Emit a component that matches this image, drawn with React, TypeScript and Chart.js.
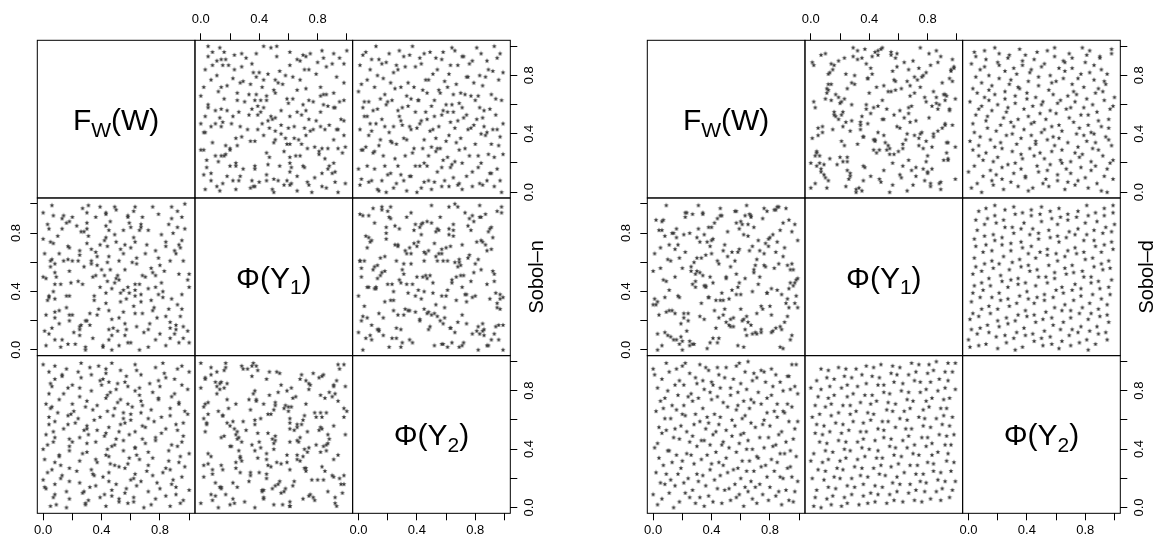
import React, { useEffect, useRef } from 'react';
import { Chart, registerables } from 'chart.js';

Chart.register(...registerables);

const PAGE_W = 1153;
const PAGE_H = 545;
const PANEL = 157.67;
const MATRIX_LEFTS = [37.3, 647.3];
const MATRIX_TOP = 40.3;
const AXIS_MIN = -0.04;
const AXIS_MAX = 1.04;
const TICK_VALUES = [0, 0.2, 0.4, 0.6, 0.8, 1];
const TICK_LABELS = ['0.0', '', '0.4', '', '0.8', ''];
const VAR_LABELS: [string, string, string][] = [['F', 'W', '(W)'], ['Φ(Y', '1', ')'], ['Φ(Y', '2', ')']];
const MATRIX_TITLES = ['Sobol–n', 'Sobol–d'];
const PCT = 100; // point values below are given in percent of the unit range

// ---- Sobol-n sample (three variables, one entry per point) ----
const sobolN_W = [
  100,99,100,99,100,96,96,93,97,96,95,95,97,94,95,95,93,92,90,91,
  91,91,90,94,93,89,92,92,87,87,87,88,87,88,88,84,84,86,82,82,
  81,83,84,84,81,86,80,78,79,77,80,79,77,77,75,76,77,79,75,74,
  75,74,72,72,73,72,70,68,70,72,71,67,67,68,67,67,66,69,68,66,
  64,64,64,61,63,62,63,63,63,60,63,62,66,62,63,59,60,58,56,57,
  56,57,59,58,56,55,56,58,58,55,60,52,51,52,55,53,53,55,52,50,
  51,49,52,53,50,50,49,49,47,45,47,45,48,47,45,43,43,47,44,46,
  44,45,44,43,45,43,43,46,41,41,37,38,35,35,39,42,40,36,37,37,
  39,36,42,43,36,39,34,32,30,29,32,34,33,33,33,30,31,30,30,30,
  31,29,29,25,25,25,26,27,28,24,25,25,28,26,23,27,22,21,24,18,
  18,20,16,18,16,19,18,20,17,18,17,16,18,20,17,12,13,11,11,12,
  9,14,11,10,13,13,14,8,8,8,7,8,8,8,6,7,7,6,6,8,
  4,3,4,4,2,0,5,5,1,5,0,4,3,0,2,1,2,
];
const sobolN_Y1 = [
  5,13,43,48,52,8,16,5,83,61,75,91,100,23,28,38,52,31,11,14,
  17,66,68,70,72,80,84,95,8,15,19,35,61,90,98,3,23,28,36,40,
  46,54,71,74,79,86,11,22,38,51,58,63,68,7,27,29,43,93,98,34,
  53,56,2,14,18,42,50,51,66,82,72,86,84,25,33,38,45,12,91,0,
  16,59,63,60,25,30,37,41,45,70,74,77,82,95,98,87,5,5,10,14,
  18,35,39,43,55,66,72,91,92,82,84,3,13,22,26,33,39,41,48,49,
  51,46,61,69,74,96,98,79,0,7,10,14,15,21,27,32,39,42,47,55,
  60,64,71,77,82,93,94,88,2,3,24,28,34,37,43,51,55,51,58,64,
  72,67,75,85,91,98,8,17,20,20,25,50,59,61,69,73,78,83,87,94,
  99,0,2,10,14,16,17,45,57,61,65,68,81,81,85,97,4,12,47,20,
  24,24,29,37,37,46,54,61,62,70,71,87,88,91,4,2,7,18,27,45,
  50,61,66,78,83,90,92,7,26,35,40,45,53,59,62,73,92,99,15,22,
  11,34,36,37,49,50,57,61,66,74,76,83,86,94,3,13,24,
];
const sobolN_Y2 = [
  37,81,12,64,93,5,49,72,28,58,84,21,66,3,45,97,31,53,78,14,
  9,57,88,35,71,19,42,95,26,63,68,43,1,76,16,89,54,32,99,24,
  51,92,27,8,62,39,83,17,74,46,13,75,48,96,34,59,6,87,22,67,
  79,2,61,29,85,11,44,70,55,38,25,65,91,47,18,73,33,0,56,82,
  94,36,15,69,52,4,80,41,23,60,41,7,77,20,98,50,64,30,86,13,
  58,90,34,71,10,46,27,83,3,65,19,52,85,6,39,74,94,61,28,47,
  72,29,4,57,81,16,68,43,99,35,8,86,63,42,24,95,51,12,77,30,
  66,18,40,92,55,1,36,79,21,88,31,97,22,60,7,49,84,15,70,53,
  87,45,9,75,33,62,23,96,56,2,14,67,80,26,91,38,5,54,44,73,
  50,3,69,17,48,82,99,37,11,61,76,32,53,89,25,10,58,66,93,42,
  27,71,95,39,0,64,18,45,82,6,63,11,47,84,57,29,91,74,35,20,
  2,54,36,65,90,22,78,9,48,97,45,88,16,31,69,52,7,83,26,59,
  93,24,78,57,13,40,68,1,33,85,19,62,43,98,71,14,50,
];

// ---- Sobol-d sample (three variables, one entry per point) ----
const sobolD_W = [
  62,14,88,35,71,3,47,96,29,53,18,79,41,6,93,57,25,68,84,32,
  75,38,11,59,0,86,22,49,65,97,44,91,27,70,52,15,80,8,36,63,
  5,56,73,99,21,42,67,31,89,12,87,24,60,46,78,9,34,95,51,17,
  30,69,2,83,39,64,19,55,74,92,58,7,94,28,48,77,13,40,66,85,
  20,45,81,61,4,33,98,72,50,26,71,90,37,16,57,23,87,10,43,64,
  11,52,68,94,30,76,1,39,82,59,47,84,25,3,65,48,91,18,35,73,
  96,33,54,79,14,60,27,86,6,41,23,62,9,43,88,97,50,70,36,15,
  80,4,75,56,28,19,67,45,93,38,54,99,32,12,76,85,8,61,22,46,
  37,20,63,90,42,2,78,29,57,83,89,66,16,51,7,34,58,95,74,21,
  13,48,85,27,69,92,40,5,62,31,67,78,44,8,53,24,99,17,81,39,
  26,10,58,72,35,89,46,64,3,94,82,53,21,97,60,41,15,77,30,68,
  40,87,6,34,18,71,55,92,49,1,93,29,69,45,84,11,25,38,63,76,
  16,74,50,81,0,57,36,98,20,44,59,32,95,65,22,9,
];
const sobolD_Y1 = [
  2,7,14,21,25,33,39,44,52,57,63,71,76,82,89,95,
  3,11,15,23,28,36,41,46,54,59,67,72,78,86,90,97,
  4,12,17,25,30,36,44,49,56,61,68,75,79,87,92,99,
  1,9,16,20,28,34,39,47,51,59,64,72,77,84,89,96,
  5,10,18,22,30,35,43,48,55,60,68,73,80,84,93,98,
  0,8,12,20,24,32,37,45,49,57,62,70,74,83,87,94,
  2,10,15,23,27,35,40,46,54,58,66,71,79,83,92,96,
  6,11,19,24,32,36,44,50,55,63,67,76,80,88,93,98,
  3,8,13,21,26,34,38,46,50,58,65,69,77,82,90,95,
  4,9,17,22,29,36,41,49,53,61,66,74,78,86,91,97,
  1,6,14,19,27,31,39,43,52,56,64,68,77,81,89,93,
  3,10,14,22,27,34,41,45,53,58,66,70,79,83,91,95,
  5,12,16,25,29,37,42,50,54,62,67,75,79,87,92,99,
  0,7,13,21,25,32,38,46,50,57,63,71,75,82,88,94,
  4,11,16,23,28,35,42,47,55,59,67,72,80,84,92,97,
  7,12,19,24,31,38,43,48,56,61,69,74,81,86,94,99,
];
const sobolD_Y2 = [
  1,0,2,1,3,2,3,4,3,5,4,5,4,6,5,7,
  7,6,8,7,9,8,10,9,9,11,10,12,11,11,13,12,
  12,14,13,15,14,16,15,14,17,16,16,18,17,19,18,18,
  20,19,21,20,20,22,21,23,22,21,24,23,23,25,24,25,
  26,25,27,26,28,27,27,29,28,30,29,29,31,30,32,31,
  32,31,33,32,34,33,35,34,34,36,35,37,36,36,38,37,
  37,39,38,40,39,41,40,39,42,41,41,43,42,44,43,43,
  45,44,46,45,45,47,46,48,47,46,49,48,48,50,49,50,
  51,50,52,51,53,52,52,54,53,55,54,54,56,55,57,56,
  57,56,58,57,59,58,60,59,59,61,60,62,61,61,63,62,
  62,64,63,65,64,66,65,64,67,66,66,68,67,69,68,68,
  70,69,71,70,70,72,71,73,72,71,74,73,73,75,74,75,
  76,75,77,76,78,77,77,79,78,80,79,79,81,80,82,81,
  82,81,83,82,84,83,85,84,84,86,85,87,86,86,88,87,
  87,89,88,90,89,91,90,89,92,91,91,93,92,94,93,93,
  95,94,96,95,95,97,96,98,97,96,99,98,98,100,99,99,
];

const MATRIX_VARS: number[][][] = [
  [sobolN_W, sobolN_Y1, sobolN_Y2],
  [sobolD_W, sobolD_Y1, sobolD_Y2],
];

type Spec = {
  m: number; r: number; c: number;
  left: number; top: number;
  xPos?: 'top' | 'bottom';
  yPos?: 'left' | 'right';
};

const SPECS: Spec[] = [];
for (let m = 0; m < 2; m++) {
  for (let r = 0; r < 3; r++) {
    for (let c = 0; c < 3; c++) {
      SPECS.push({
        m, r, c,
        left: MATRIX_LEFTS[m] + c * PANEL,
        top: MATRIX_TOP + r * PANEL,
        xPos: r === 0 && c === 1 ? 'top' : r === 2 && c !== 1 ? 'bottom' : undefined,
        yPos: c === 0 && r === 1 ? 'left' : c === 2 && r !== 1 ? 'right' : undefined,
      });
    }
  }
}

const FONT_FAMILY = '"Liberation Sans", Arial, Helvetica, sans-serif';
const X_AXIS_H = 30;
const Y_AXIS_W = 30;

function makeStar(): HTMLCanvasElement {
  const c = document.createElement('canvas');
  c.width = 6;
  c.height = 6;
  const g = c.getContext('2d')!;
  g.fillStyle = '#3a3a3a';
  g.beginPath();
  for (let k = 0; k < 10; k++) {
    const rr = k % 2 === 0 ? 2.6 : 1.1;
    const a = -Math.PI / 2 + (k * Math.PI) / 5;
    const px = 3 + rr * Math.cos(a);
    const py = 3.2 + rr * Math.sin(a);
    if (k === 0) g.moveTo(px, py);
    else g.lineTo(px, py);
  }
  g.closePath();
  g.fill();
  return c;
}

function drawVarLabel(ctx: CanvasRenderingContext2D, parts: [string, string, string], cx: number, cy: number, size: number) {
  const main = `${size}px ${FONT_FAMILY}`;
  const sub = `${Math.round(size * 0.7)}px ${FONT_FAMILY}`;
  ctx.font = main;
  const w0 = ctx.measureText(parts[0]).width;
  const w2 = ctx.measureText(parts[2]).width;
  ctx.font = sub;
  const w1 = ctx.measureText(parts[1]).width;
  let x = cx - (w0 + w1 + w2) / 2;
  const base = cy + size * 0.36;
  ctx.fillStyle = '#000';
  ctx.textAlign = 'left';
  ctx.textBaseline = 'alphabetic';
  ctx.font = main;
  ctx.fillText(parts[0], x, base);
  x += w0;
  ctx.font = sub;
  ctx.fillText(parts[1], x, base + size * 0.22);
  x += w1;
  ctx.font = main;
  ctx.fillText(parts[2], x, base);
}

const panelPlugin = {
  id: 'panelDecor',
  afterDraw(chart: any, _args: any, opts: any) {
    const { ctx, chartArea: a } = chart;
    ctx.save();
    ctx.strokeStyle = '#000';
    ctx.lineWidth = 1;
    ctx.strokeRect(a.left, a.top, a.right - a.left, a.bottom - a.top);
    if (opts.label) {
      drawVarLabel(ctx, opts.label, (a.left + a.right) / 2, (a.top + a.bottom) / 2, 30);
    }
    if (opts.title) {
      ctx.translate(a.right + 27, (a.top + a.bottom) / 2);
      ctx.rotate(-Math.PI / 2);
      ctx.font = `20px ${FONT_FAMILY}`;
      ctx.fillStyle = '#000';
      ctx.textAlign = 'center';
      ctx.textBaseline = 'middle';
      ctx.fillText(opts.title, 0, 0);
    }
    ctx.restore();
  },
};

function axisOptions(pos: string | undefined, isX: boolean) {
  return {
    type: 'linear',
    min: AXIS_MIN,
    max: AXIS_MAX,
    display: !!pos,
    position: pos || (isX ? 'bottom' : 'left'),
    afterBuildTicks: (s: any) => {
      s.ticks = TICK_VALUES.map((v) => ({ value: v }));
    },
    afterFit: (s: any) => {
      if (!pos) return;
      if (isX) s.height = X_AXIS_H;
      else s.width = Y_AXIS_W;
    },
    grid: { drawOnChartArea: false, drawTicks: true, tickLength: 7, color: '#000', lineWidth: 1 },
    border: { display: false },
    ticks: {
      autoSkip: false,
      color: '#000',
      font: { family: FONT_FAMILY, size: 13 },
      padding: isX ? (pos === 'top' ? 6 : 2) : pos === 'right' ? 3 : 5,
      minRotation: isX ? 0 : 90,
      maxRotation: isX ? 0 : 90,
      crossAlign: isX ? 'near' : 'center',
      callback: (_v: any, i: number) => TICK_LABELS[i],
    },
  };
}

function buildConfig(spec: Spec, star: HTMLCanvasElement): any {
  const right = spec.left + PANEL;
  const bottom = spec.top + PANEL;
  const padding = {
    left: spec.left - (spec.yPos === 'left' ? Y_AXIS_W : 0),
    right: PAGE_W - right - (spec.yPos === 'right' ? Y_AXIS_W : 0),
    top: spec.top - (spec.xPos === 'top' ? X_AXIS_H : 0),
    bottom: PAGE_H - bottom - (spec.xPos === 'bottom' ? X_AXIS_H : 0),
  };
  const { m, r, c } = spec;
  const data: { x: number; y: number }[] = [];
  if (r !== c) {
    const xs = MATRIX_VARS[m][c];
    const ys = MATRIX_VARS[m][r];
    const n = Math.min(xs.length, ys.length);
    for (let i = 0; i < n; i++) data.push({ x: xs[i] / PCT, y: ys[i] / PCT });
  }
  return {
    type: 'scatter',
    data: {
      datasets: [
        {
          data,
          pointStyle: star,
          pointRadius: 3,
          pointHoverRadius: 3,
          borderWidth: 0,
        },
      ],
    },
    options: {
      animation: false,
      responsive: false,
      devicePixelRatio: 1,
      events: [],
      layout: { padding },
      plugins: {
        legend: { display: false },
        tooltip: { enabled: false },
        panelDecor: {
          label: r === c ? VAR_LABELS[r] : null,
          title: r === 1 && c === 2 ? MATRIX_TITLES[m] : null,
        },
      },
      scales: {
        x: axisOptions(spec.xPos, true),
        y: axisOptions(spec.yPos, false),
      },
    },
    plugins: [panelPlugin],
  };
}

export default function App() {
  const refs = useRef<(HTMLCanvasElement | null)[]>([]);
  useEffect(() => {
    const star = makeStar();
    const charts = SPECS.map((spec, i) => new Chart(refs.current[i] as HTMLCanvasElement, buildConfig(spec, star)));
    return () => charts.forEach((ch) => ch.destroy());
  }, []);
  return (
    <div style={{ position: 'fixed', left: 0, top: 0, width: PAGE_W, height: PAGE_H, background: '#fff' }}>
      {SPECS.map((_s, i) => (
        <canvas
          key={i}
          ref={(el) => {
            refs.current[i] = el;
          }}
          width={PAGE_W}
          height={PAGE_H}
          style={{ position: 'absolute', left: 0, top: 0, width: PAGE_W, height: PAGE_H }}
        />
      ))}
    </div>
  );
}
